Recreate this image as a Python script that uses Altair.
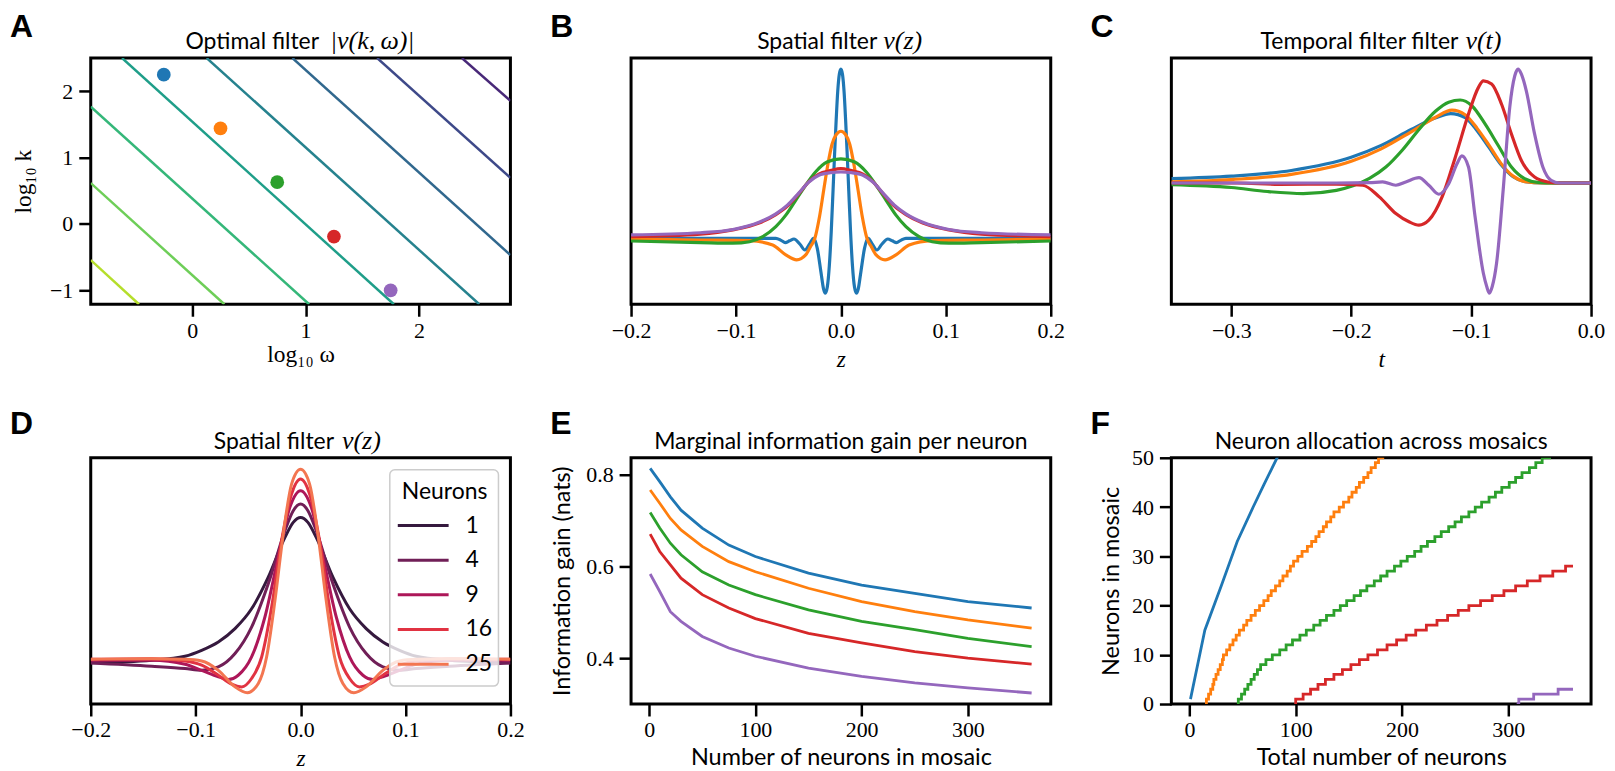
import altair as alt
import pandas as pd

W, H = 421, 247
SANS = "Lato"
SERIF = "Liberation Serif"
TAB = ["#1f77b4", "#ff7f0e", "#2ca02c", "#d62728", "#9467bd"]

# ---------------- Panel A : contour lines + points ----------------
A_LINE_X0 = [-0.894, -0.894, -0.894, -0.618, 0.128, 0.884, 1.631, 2.378]
A_LINE_Y0 = [-0.544, 0.616, 1.766, 2.5, 2.5, 2.5, 2.5, 2.5]
A_LINE_X1 = [-0.469, 0.284, 1.031, 1.778, 2.531, 2.806, 2.806, 2.806]
A_LINE_Y1 = [-1.21, -1.21, -1.21, -1.21, -1.21, -0.469, 0.695, 1.856]
A_LINE_COLORS = ["#b5de2b", "#6ece58", "#35b779", "#1f9e89", "#26828e", "#31688e", "#3e4989", "#482878"]
A_PT_X = [-0.25, 0.25, 0.75, 1.25, 1.75]
A_PT_Y = [2.25, 1.44, 0.63, -0.19, -1.0]

# ---------------- Panel B : spatial filters (z, v) ----------------
B_BLUE = [(-0.2, 0), (-0.1, 0), (-0.062, 0), (-0.057, -0.012), (-0.053, -0.025), (-0.049, -0.015),
          (-0.0447, -0.004), (-0.039, -0.035), (-0.0343, -0.069), (-0.030, -0.035), (-0.026, 0.0),
          (-0.0225, -0.06), (-0.019, -0.2), (-0.0165, -0.30), (-0.0148, -0.324), (-0.013, -0.29),
          (-0.011, -0.16), (-0.0092, 0.04), (-0.0075, 0.28), (-0.006, 0.50), (-0.0045, 0.70),
          (-0.003, 0.87), (-0.0015, 0.97), (0, 1.0), (0.0015, 0.97), (0.003, 0.87), (0.0045, 0.70),
          (0.006, 0.50), (0.0075, 0.28), (0.0092, 0.04), (0.011, -0.16), (0.013, -0.29), (0.0148, -0.324),
          (0.0165, -0.30), (0.019, -0.2), (0.0225, -0.06), (0.026, 0.0), (0.030, -0.035), (0.0343, -0.069),
          (0.039, -0.035), (0.0447, -0.004), (0.049, -0.015), (0.053, -0.025), (0.057, -0.012),
          (0.062, 0), (0.1, 0), (0.2, 0)]
B_ORANGE = [(-0.2, -0.004), (-0.134, -0.01), (-0.087, -0.014), (-0.065, -0.04), (-0.0525, -0.098),
            (-0.0421, -0.127), (-0.0336, -0.098), (-0.029, -0.049), (-0.0248, 0.0), (-0.0204, 0.127),
            (-0.0164, 0.284), (-0.0123, 0.441), (-0.0085, 0.555), (-0.0044, 0.614), (0, 0.633),
            (0.0044, 0.614), (0.0085, 0.555), (0.0123, 0.441), (0.0164, 0.284), (0.0204, 0.127),
            (0.0248, 0.0), (0.029, -0.049), (0.0336, -0.098), (0.0421, -0.127), (0.0525, -0.098),
            (0.065, -0.04), (0.087, -0.014), (0.134, -0.01), (0.2, -0.004)]
B_GREEN = [(-0.2, -0.016), (-0.134, -0.025), (-0.103, -0.029), (-0.087, -0.02), (-0.0745, 0.01),
           (-0.062, 0.069), (-0.0525, 0.137), (-0.0431, 0.225), (-0.0336, 0.314), (-0.0242, 0.392),
           (-0.0132, 0.451), (0, 0.47), (0.0132, 0.451), (0.0242, 0.392), (0.0336, 0.314),
           (0.0431, 0.225), (0.0525, 0.137), (0.062, 0.069), (0.0745, 0.01), (0.087, -0.02),
           (0.103, -0.029), (0.134, -0.025), (0.2, -0.016)]
B_RED = [(-0.2, 0.01), (-0.134, 0.025), (-0.103, 0.05), (-0.078, 0.09), (-0.062, 0.14), (-0.051, 0.19),
         (-0.040, 0.265), (-0.0305, 0.335), (-0.021, 0.38), (-0.010, 0.40), (0, 0.412), (0.010, 0.40),
         (0.021, 0.38), (0.0305, 0.335), (0.040, 0.265), (0.051, 0.19), (0.062, 0.14), (0.078, 0.09),
         (0.103, 0.05), (0.134, 0.025), (0.2, 0.01)]
B_PURPLE = [(-0.2, 0.02), (-0.134, 0.033), (-0.103, 0.052), (-0.078, 0.095), (-0.062, 0.145),
            (-0.051, 0.196), (-0.040, 0.269), (-0.0305, 0.333), (-0.021, 0.373), (-0.010, 0.388),
            (0, 0.392), (0.010, 0.388), (0.021, 0.373), (0.0305, 0.333), (0.040, 0.269), (0.051, 0.196),
            (0.062, 0.145), (0.078, 0.095), (0.103, 0.052), (0.134, 0.033), (0.2, 0.02)]

# ---------------- Panel C : temporal filters (t, v) ----------------
C_BLUE = [(-0.35, 0.038), (-0.30, 0.06), (-0.25, 0.11), (-0.20, 0.226), (-0.175, 0.33), (-0.15, 0.47),
          (-0.13, 0.57), (-0.117, 0.61), (-0.105, 0.575), (-0.095, 0.46), (-0.085, 0.31), (-0.075, 0.16),
          (-0.065, 0.055), (-0.055, 0.012), (-0.04, 0.0), (0.0, 0.0)]
C_ORANGE = [(-0.35, 0.009), (-0.30, 0.03), (-0.25, 0.075), (-0.20, 0.19), (-0.175, 0.30), (-0.15, 0.45),
            (-0.13, 0.575), (-0.116, 0.64), (-0.105, 0.60), (-0.095, 0.48), (-0.085, 0.33), (-0.075, 0.17),
            (-0.065, 0.06), (-0.055, 0.012), (-0.04, 0.0), (0.0, 0.0)]
C_GREEN = [(-0.35, -0.014), (-0.30, -0.04), (-0.27, -0.075), (-0.24, -0.093), (-0.2124, -0.065),
           (-0.1986, -0.025), (-0.1848, 0.04), (-0.1711, 0.14), (-0.1573, 0.29), (-0.1435, 0.47),
           (-0.1298, 0.63), (-0.1187, 0.71), (-0.1091, 0.729), (-0.0994, 0.679), (-0.0884, 0.519),
           (-0.0774, 0.329), (-0.0664, 0.14), (-0.0554, 0.038), (-0.0444, 0.006), (-0.03, 0.0), (0.0, 0.0)]
C_RED = [(-0.35, 0.0), (-0.295, 0.0), (-0.26, -0.012), (-0.2124, -0.01), (-0.1904, -0.02),
         (-0.1766, -0.122), (-0.1628, -0.268), (-0.1518, -0.341), (-0.1435, -0.37), (-0.1353, -0.327),
         (-0.1242, -0.122), (-0.1132, 0.227), (-0.1022, 0.606), (-0.0939, 0.84), (-0.0898, 0.898),
         (-0.0829, 0.869), (-0.0747, 0.694), (-0.0664, 0.431), (-0.0581, 0.198), (-0.0471, 0.052),
         (-0.0361, 0.009), (-0.0264, 0.0), (0.0, 0.0)]
C_PURPLE = [(-0.35, 0.0), (-0.2124, 0.0), (-0.1848, 0.003), (-0.1738, 0.009), (-0.1628, -0.02),
            (-0.1545, 0.009), (-0.1435, 0.047), (-0.1353, -0.02), (-0.127, -0.099), (-0.1187, -0.006),
            (-0.1118, 0.169), (-0.1077, 0.239), (-0.1022, 0.14), (-0.0967, -0.297), (-0.0898, -0.793),
            (-0.087, -0.91), (-0.0848, -0.968), (-0.0824, -0.91), (-0.0788, -0.706), (-0.0733, -0.064),
            (-0.0678, 0.665), (-0.0636, 0.942), (-0.0609, 1.0), (-0.0581, 0.956), (-0.054, 0.81),
            (-0.0471, 0.431), (-0.0402, 0.14), (-0.0333, 0.023), (-0.0264, 0.0), (0.0, 0.0)]

# ---------------- Panel D : spatial filter vs number of neurons ----------------
D_LABELS = ["1", "4", "9", "16", "25"]
D_COLORS = ["#35193e", "#701f57", "#ad1759", "#e13342", "#f37651"]
D_N1 = [(-0.2, -0.018), (-0.1419, -0.005), (-0.1102, 0.016), (-0.0943, 0.047), (-0.0784, 0.091),
        (-0.0625, 0.161), (-0.0467, 0.265), (-0.0308, 0.431), (-0.0149, 0.640), (-0.007, 0.719), (0, 0.745),
        (0.007, 0.719), (0.0149, 0.640), (0.0308, 0.431), (0.0467, 0.265), (0.0625, 0.161), (0.0784, 0.091),
        (0.0943, 0.047), (0.1102, 0.016), (0.1419, -0.005), (0.2, -0.018)]
D_N4 = [(-0.2, -0.02), (-0.1419, -0.037), (-0.1102, -0.049), (-0.0943, -0.058), (-0.0784, -0.040),
        (-0.0625, 0.030), (-0.0467, 0.169), (-0.0308, 0.396), (-0.0149, 0.675), (-0.007, 0.780), (0, 0.815),
        (0.007, 0.780), (0.0149, 0.675), (0.0308, 0.396), (0.0467, 0.169), (0.0625, 0.030), (0.0784, -0.040),
        (0.0943, -0.058), (0.1102, -0.049), (0.1419, -0.037), (0.2, -0.02)]
D_N9 = [(-0.2, -0.005), (-0.1419, -0.005), (-0.1102, -0.026), (-0.0943, -0.058), (-0.0784, -0.092),
        (-0.0689, -0.106), (-0.0594, -0.084), (-0.0467, 0.012), (-0.034, 0.222), (-0.0213, 0.536),
        (-0.0102, 0.798), (0, 0.885), (0.0102, 0.798), (0.0213, 0.536), (0.034, 0.222), (0.0467, 0.012),
        (0.0594, -0.084), (0.0689, -0.106), (0.0784, -0.092), (0.0943, -0.058), (0.1102, -0.026),
        (0.1419, -0.005), (0.2, -0.005)]
D_N16 = [(-0.2, 0.0), (-0.1419, 0.003), (-0.1102, -0.009), (-0.0943, -0.031), (-0.0784, -0.084),
         (-0.0657, -0.131), (-0.0562, -0.145), (-0.0467, -0.101), (-0.0371, 0.012), (-0.0276, 0.274),
         (-0.0181, 0.623), (-0.0086, 0.867), (0, 0.946), (0.0086, 0.867), (0.0181, 0.623), (0.0276, 0.274),
         (0.0371, 0.012), (0.0467, -0.101), (0.0562, -0.145), (0.0657, -0.131), (0.0784, -0.084),
         (0.0943, -0.031), (0.1102, -0.009), (0.1419, 0.003), (0.2, 0.0)]
D_N25 = [(-0.2, 0.0), (-0.1419, 0.003), (-0.1102, 0.0), (-0.0943, -0.009), (-0.0784, -0.058),
         (-0.0625, -0.145), (-0.0508, -0.176), (-0.0403, -0.127), (-0.0324, 0.012), (-0.0244, 0.309),
         (-0.0165, 0.658), (-0.0086, 0.920), (0, 0.998), (0.0086, 0.920), (0.0165, 0.658), (0.0244, 0.309),
         (0.0324, 0.012), (0.0403, -0.127), (0.0508, -0.176), (0.0625, -0.145), (0.0784, -0.058),
         (0.0943, -0.009), (0.1102, 0.0), (0.1419, 0.003), (0.2, 0.0)]

# ---------------- Panel E : marginal information gain ----------------
E_N = [1, 10, 20, 30, 50, 75, 100, 150, 200, 250, 300, 360]
E_BLUE = [0.813, 0.784, 0.751, 0.722, 0.683, 0.646, 0.621, 0.585, 0.559, 0.541, 0.523, 0.509]
E_ORANGE = [0.766, 0.737, 0.704, 0.679, 0.643, 0.610, 0.588, 0.552, 0.523, 0.501, 0.483, 0.465]
E_GREEN = [0.717, 0.683, 0.650, 0.625, 0.588, 0.559, 0.538, 0.505, 0.480, 0.462, 0.443, 0.425]
E_RED = [0.670, 0.632, 0.603, 0.574, 0.538, 0.509, 0.486, 0.454, 0.433, 0.414, 0.400, 0.387]
E_PURPLE = [0.583, 0.545, 0.501, 0.480, 0.447, 0.422, 0.404, 0.378, 0.360, 0.346, 0.335, 0.324]

# ---------------- Panel F : neuron allocation ----------------
F_BLUE = [(1, 1), (14.5, 15), (30, 24), (45, 33), (60, 40), (70, 44.5), (82.5, 50), (86, 51.5)]
F_ORANGE_START = 15
F_ORANGE_STEPS = [16, 18, 20, 22, 23, 25, 27, 29, 31, 32, 35, 38, 41, 44, 47, 51, 54, 58, 62, 66, 70, 74,
                  77, 81, 85, 88, 92, 95, 98, 102, 106, 111, 115, 119, 122, 126, 129, 133, 136, 141, 145,
                  150, 153, 157, 160, 164, 168, 171, 175, 178, 182, 185]
F_GREEN_START = 45
F_GREEN_STEPS = [46, 49, 52, 55, 58, 61, 64, 67, 72, 78, 85, 91, 97, 104, 110, 117, 123, 129, 136, 142, 148,
                 155, 161, 167, 174, 180, 186, 193, 199, 205, 212, 218, 224, 231, 237, 244, 250, 256, 263,
                 269, 275, 282, 288, 294, 301, 307, 313, 320, 326, 332, 339, 345, 351, 358]
F_RED_START = 99
F_RED_STEPS = [100, 107, 114, 121, 128, 136, 144, 152, 160, 168, 177, 186, 195, 204, 213, 223, 233, 243,
               253, 263, 274, 285, 296, 307, 318, 330, 342, 354]
F_PURPLE_START = 308
F_PURPLE_STEPS = [310, 324, 347]
F_END = 361

# ---------------- panel titles (text part, math part) ----------------
TITLE_A = ("Optimal filter", "|v(k,\u2009ω)|")
TITLE_B = ("Spatial filter", "v(z)")
TITLE_C = ("Temporal filter filter", "v(t)")
TITLE_D = ("Spatial filter", "v(z)")
TITLE_E = "Marginal information gain per neuron"
TITLE_F = "Neuron allocation across mosaics"


# ---------------- helpers ----------------
def xax(values, title, fmt, tfont, italic, ty):
    kw = dict(values=values, title=title, titleFont=tfont, titleY=ty, titleBaseline="alphabetic")
    if fmt:
        kw["format"] = fmt
    if italic:
        kw["titleFontStyle"] = "italic"
    return alt.Axis(**kw)


def yax(values, title, fmt, tfont, tx):
    kw = dict(values=values, title=title, titleFont=tfont, titleX=tx, titleBaseline="middle")
    if fmt:
        kw["format"] = fmt
    return alt.Axis(**kw)


def line_layer(points, color, xs, ys, xa, ya, sw, interp="linear"):
    df = pd.DataFrame(points, columns=["x", "y"])
    return alt.Chart(df).mark_line(color=color, strokeWidth=sw, interpolate=interp, clip=True).encode(
        x=alt.X("x:Q", scale=xs, axis=xa), y=alt.Y("y:Q", scale=ys, axis=ya))


def text_mark(txt, x, y, font, size, align="left", baseline="alphabetic", weight="normal", style="normal"):
    return alt.Chart(pd.DataFrame({"t": [txt]})).mark_text(
        font=font, fontSize=size, fontWeight=weight, fontStyle=style, align=align, baseline=baseline,
        color="black").encode(text="t:N", x=alt.value(x), y=alt.value(y))


def panel_label(letter, dy):
    return text_mark(letter, -81, dy, "Liberation Sans", 32, "left", "top", "bold")


def split_title(parts, sans_end, math_start, dy=-9):
    return [text_mark(parts[0], sans_end, dy, SANS, 23, "right"),
            text_mark(parts[1], math_start, dy, SERIF, 26, "left", style="italic")]


def plain_title(txt, dy=-9):
    return [text_mark(txt, W / 2, dy, SANS, 23, "center")]


def stairs(start, steps, end):
    pts = [(start, 0)] + [(x, k + 1) for k, x in enumerate(steps)]
    pts.append((end, len(steps)))
    return pts


# ---------------- A ----------------
xsA = alt.Scale(domain=[-0.894, 2.806], nice=False, zero=False)
ysA = alt.Scale(domain=[-1.21, 2.5], nice=False, zero=False)
axAx = xax([0, 1, 2], "log₁₀ ω", "d", SERIF, False, 57)
axAy = yax([-1, 0, 1, 2], "log₁₀ k", "d", SERIF, -67)
a_df = pd.DataFrame({"x0": A_LINE_X0, "y0": A_LINE_Y0, "x1": A_LINE_X1, "y1": A_LINE_Y1, "c": A_LINE_COLORS})
contours = alt.Chart(a_df).mark_rule(strokeWidth=2.5, clip=True).encode(
    x=alt.X("x0:Q", scale=xsA, axis=axAx), y=alt.Y("y0:Q", scale=ysA, axis=axAy),
    x2="x1:Q", y2="y1:Q", color=alt.Color("c:N", scale=None))
dots = alt.Chart(pd.DataFrame({"x": A_PT_X, "y": A_PT_Y, "c": TAB})).mark_circle(size=190, opacity=1).encode(
    x=alt.X("x:Q", scale=xsA, axis=axAx), y=alt.Y("y:Q", scale=ysA, axis=axAy),
    color=alt.Color("c:N", scale=None))
A = alt.layer(contours, dots, panel_label("A", -46), *split_title(TITLE_A, 229, 240)).properties(
    width=W, height=H)

# ---------------- B ----------------
xsB = alt.Scale(domain=[-0.2, 0.2], nice=False, zero=False)
ysB = alt.Scale(domain=[-0.39, 1.066], nice=False, zero=False)
axB = xax([-0.2, -0.1, 0.0, 0.1, 0.2], "z", ".1f", SERIF, True, 62)
B = alt.layer(*[line_layer(p, c, xsB, ysB, axB, None, 3.2, "monotone")
                for p, c in zip([B_BLUE, B_ORANGE, B_GREEN, B_RED, B_PURPLE], TAB)],
              panel_label("B", -46), *split_title(TITLE_B, 247, 253)).properties(width=W, height=H)

# ---------------- C ----------------
xsC = alt.Scale(domain=[-0.35, 0.0], nice=False, zero=False)
ysC = alt.Scale(domain=[-1.066, 1.098], nice=False, zero=False)
axC = xax([-0.3, -0.2, -0.1, 0.0], "t", ".1f", SERIF, True, 62)
C = alt.layer(*[line_layer(p, c, xsC, ysC, axC, None, 3.2, "monotone")
                for p, c in zip([C_BLUE, C_ORANGE, C_GREEN, C_RED, C_PURPLE], TAB)],
              panel_label("C", -46), *split_title(TITLE_C, 288, 295)).properties(width=W, height=H)

# ---------------- D ----------------
ysD = alt.Scale(domain=[-0.235, 1.058], nice=False, zero=False)
axD = xax([-0.2, -0.1, 0.0, 0.1, 0.2], "z", ".1f", SERIF, True, 62)
d_curves = [line_layer(p, c, xsB, ysD, axD, None, 3.0, "monotone")
            for p, c in zip([D_N1, D_N4, D_N9, D_N16, D_N25], D_COLORS)]
leg_df = pd.DataFrame({"n": D_LABELS, "c": D_COLORS})
yleg = alt.Y("n:N", scale=alt.Scale(type="point", domain=D_LABELS, range=[68, 207], padding=0), axis=None)
leg_box = alt.Chart(pd.DataFrame({"a": [0]})).mark_rect(
    fill="white", fillOpacity=0.8, stroke="#cccccc", strokeWidth=1.5, cornerRadius=5
).encode(x=alt.value(300), x2=alt.value(409), y=alt.value(12), y2=alt.value(229))
leg_title = text_mark("Neurons", 355, 41, SANS, 23, "center")
leg_rules = alt.Chart(leg_df).mark_rule(strokeWidth=3.0).encode(
    x=alt.value(308), x2=alt.value(359), y=yleg, color=alt.Color("c:N", scale=None))
leg_text = alt.Chart(leg_df).mark_text(font=SANS, fontSize=23, align="left", baseline="middle", color="black").encode(
    x=alt.value(376), y=yleg, text="n:N")
D = alt.layer(*d_curves, leg_box, leg_title, leg_rules, leg_text, panel_label("D", -49),
              *split_title(TITLE_D, 244, 252)).resolve_scale(y="independent").properties(width=W, height=H)

# ---------------- E ----------------
xsE = alt.Scale(domain=[-17, 378], nice=False, zero=False)
ysE = alt.Scale(domain=[0.30, 0.836], nice=False, zero=False)
axEx = xax([0, 100, 200, 300], "Number of neurons in mosaic", "d", SANS, False, 61)
axEy = yax([0.4, 0.6, 0.8], "Information gain (nats)", ".1f", SANS, -69)
E = alt.layer(*[line_layer(list(zip(E_N, v)), c, xsE, ysE, axEx, axEy, 2.8)
                for v, c in zip([E_BLUE, E_ORANGE, E_GREEN, E_RED, E_PURPLE], TAB)],
              panel_label("E", -49), *plain_title(TITLE_E)).properties(width=W, height=H)

# ---------------- F ----------------
ysF = alt.Scale(domain=[0, 50], nice=False, zero=False)
axFx = xax([0, 100, 200, 300], "Total number of neurons", "d", SANS, False, 61)
axFy = yax([0, 10, 20, 30, 40, 50], "Neurons in mosaic", "d", SANS, -60)
f_series = [
    (F_BLUE, "linear"),
    (stairs(F_ORANGE_START, F_ORANGE_STEPS, F_END), "step-after"),
    (stairs(F_GREEN_START, F_GREEN_STEPS, F_END), "step-after"),
    (stairs(F_RED_START, F_RED_STEPS, F_END), "step-after"),
    (stairs(F_PURPLE_START, F_PURPLE_STEPS, F_END), "step-after"),
]
F = alt.layer(*[line_layer(p, c, xsE, ysF, axFx, axFy, 2.8, it) for (p, it), c in zip(f_series, TAB)],
              panel_label("F", -49), *plain_title(TITLE_F)).properties(width=W, height=H)

chart = alt.concat(A, B, C, D, E, F, columns=3, spacing=alt.RowColnumber(row=154, column=121),
                   bounds="flush").properties(padding=0)
chart = chart.configure_view(stroke="black", strokeWidth=3).configure_axis(
    labelFont=SERIF, labelFontSize=22, labelColor="black", tickSize=12, tickWidth=2.5, tickColor="black",
    domain=False, grid=False, titleFont=SANS, titleFontSize=23.5, titleColor="black", titleFontWeight="normal",
    labelFlush=False, labelOverlap=False
).configure_axisX(labelPadding=4).configure_axisY(labelPadding=6)

chart.save("out.html", embed_options={"renderer": "svg", "actions": False})
